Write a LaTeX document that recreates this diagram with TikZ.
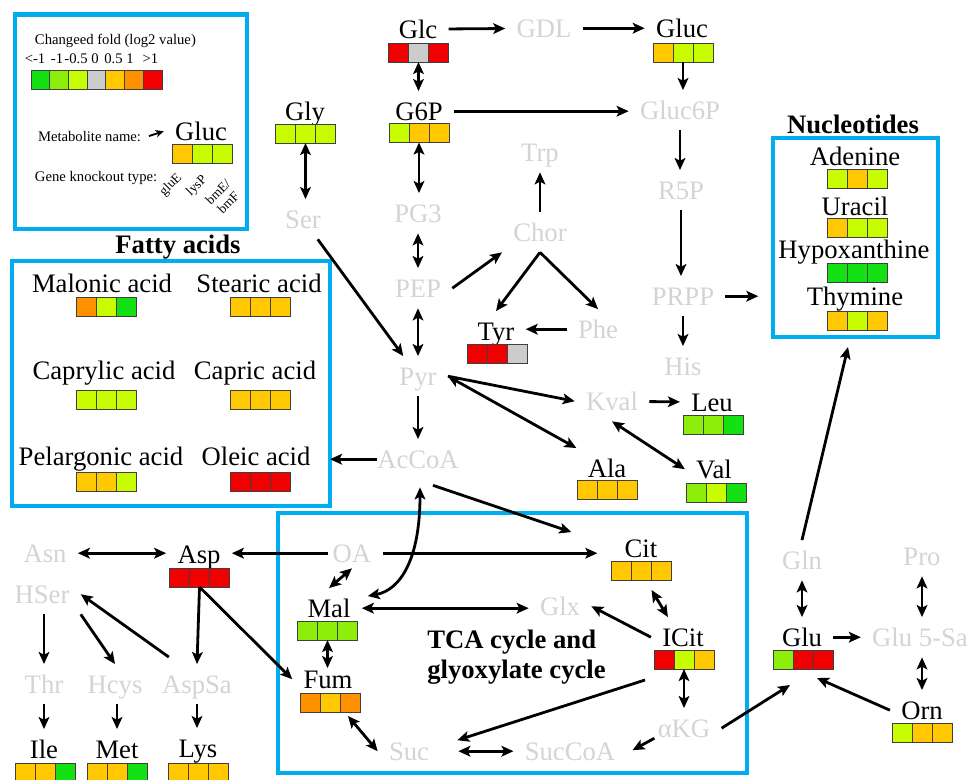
\documentclass[tikz,border=0pt]{standalone}
\usepackage{fontspec}
\setmainfont{Liberation Serif}
\usetikzlibrary{arrows.meta,calc}
\definecolor{cA}{RGB}{20,225,20}
\definecolor{cB}{RGB}{140,238,10}
\definecolor{cC}{RGB}{200,252,0}
\definecolor{cD}{RGB}{204,204,204}
\definecolor{cE}{RGB}{255,200,0}
\definecolor{cF}{RGB}{255,145,0}
\definecolor{cG}{RGB}{240,0,0}
\definecolor{gtxt}{RGB}{212,212,212}
\definecolor{fcol}{RGB}{0,174,239}
\tikzset{
  lbl/.style={font=\fontsize{20}{24}\selectfont, inner sep=1.5pt, outer sep=7pt, text height=13.2pt, text depth=0pt, anchor=base},
  met/.style={lbl, text=black},
  un/.style={lbl, text=gtxt},
  head/.style={font=\bfseries\fontsize{20}{24}\selectfont, inner sep=0pt},
  small/.style={font=\fontsize{11}{13}\selectfont, inner sep=1pt, outer sep=5pt},
  tinylbl/.style={font=\fontsize{10}{11}\selectfont, inner sep=0pt, align=center},
  frame/.style={draw=fcol, line width=3.2pt, inner sep=0pt, outer sep=0pt},
  barbox/.style={minimum width=45pt, minimum height=14.25pt, inner sep=0pt, outer sep=0pt},
  cell/.style={draw=black!75, line width=0.6pt, minimum width=15pt, minimum height=14.25pt, inner sep=0pt, outer sep=0pt},
  lcell/.style={draw=black!75, line width=0.6pt, minimum width=14pt, minimum height=14.25pt, inner sep=0pt, outer sep=0pt},
  arr/.style={-{Stealth[length=9pt,width=8pt,inset=2pt]}, line width=2.1pt},
  darr/.style={{Stealth[length=9pt,width=8pt,inset=2pt]}-{Stealth[length=9pt,width=8pt,inset=2pt]}, line width=2.1pt},
  smallarr/.style={-{Stealth[length=6pt,width=5.5pt,inset=1.5pt]}, line width=1.4pt}
}
\newcommand\metbar[6]{%
  \node[barbox] (#1) at (#2,#3) {};
  \node[cell,fill=#4] (#1-1) at ($(#1)+(-20,0)$) {};
  \node[cell,fill=#5] (#1-2) at (#1) {};
  \node[cell,fill=#6] (#1-3) at ($(#1)+(20,0)$) {};
}
\begin{document}
\begin{tikzpicture}[x=0.75pt,y=-0.75pt]
\useasboundingbox (0,0) rectangle (979,779);
\fill[white] (0,0) rectangle (979,779);

% frames
\node[frame, minimum width=174pt, minimum height=160.9pt] (LegFrame) at (131,121.75) {};
\node[frame, minimum width=238.5pt, minimum height=183.75pt] (FA) at (171,383.5) {};
\node[frame, minimum width=123.75pt, minimum height=149.25pt] (NucFrame) at (855.5,237.5) {};
\node[frame, minimum width=351.75pt, minimum height=195pt] (TCA) at (512.5,643) {};

% legend
\node[small, anchor=base west] (LegTitle) at (27,44) {Changeed fold (log2 value)};
\node[small, anchor=base] (LV1) at (35,63) {<-1};
\node[small, anchor=base] (LV2) at (57,63) {-1};
\node[small, anchor=base] (LV3) at (76,63) {-0.5};
\node[small, anchor=base] (LV4) at (95,63) {0};
\node[small, anchor=base] (LV5) at (113.5,63) {0.5};
\node[small, anchor=base] (LV6) at (130,63) {1};
\node[small, anchor=base] (LV7) at (150.5,63) {>1};
\node[lcell, fill=cA] (LB1) at (40.4,79.5) {};
\node[lcell, fill=cB] (LB2) at (59.1,79.5) {};
\node[lcell, fill=cC] (LB3) at (77.8,79.5) {};
\node[lcell, fill=cD] (LB4) at (96.5,79.5) {};
\node[lcell, fill=cE] (LB5) at (115.2,79.5) {};
\node[lcell, fill=cF] (LB6) at (133.9,79.5) {};
\node[lcell, fill=cG] (LB7) at (152.6,79.5) {};
\node[small, anchor=base west] (MetName) at (30,141) {Metabolite name:};
\node[small, anchor=base west] (KOType) at (27,181) {Gene knockout type:};
\node[met] (LGluc) at (201,140) {Gluc};
\metbar{LGlucB}{202}{153.5}{cE}{cC}{cC}
\node[tinylbl, rotate=45] (KO1) at (171,185) {gluE};
\node[tinylbl, rotate=45] (KO2) at (197,186) {lysP};
\node[tinylbl, rotate=45] (KO3) at (223,197) {bmE/\\bmF};
\draw[smallarr] (MetName.east) -- (LGluc.west);

% top metabolites
\node[met] (Glc) at (418,38) {Glc};
\node[un] (GDL) at (544,37) {GDL};
\node[met] (Gluc) at (682,37) {Gluc};
\node[met] (G6P) at (419,120) {G6P};
\node[un] (Gluc6P) at (680,119) {Gluc6P};
\node[met] (Gly) at (305,120) {Gly};
\node[un] (Ser) at (303,228) {Ser};
\node[un] (Trp) at (540,161) {Trp};
\node[un] (PG3) at (418,222) {PG3};
\node[un] (PEP) at (418,297) {PEP};
\node[un] (Pyr) at (418,385) {Pyr};
\node[un] (AcCoA) at (418,468) {AcCoA};
\node[un] (Chor) at (540,241) {Chor};
\node[un] (Phe) at (598,338) {Phe};
\node[met] (Tyr) at (496,340) {Tyr};
\node[un] (R5P) at (681,199) {R5P};
\node[un] (PRPP) at (683,305) {PRPP};
\node[un] (His) at (683,375) {His};
\node[un] (Kval) at (612,410) {Kval};
\node[met] (Leu) at (712,411) {Leu};
\node[met] (Ala) at (607,477) {Ala};
\node[met] (Val) at (714,478) {Val};

\metbar{GlcB}{418.5}{52.5}{cG}{cD}{cG}
\metbar{GlucB}{683}{52.5}{cE}{cC}{cC}
\metbar{G6PB}{419}{133}{cC}{cE}{cE}
\metbar{GlyB}{305.5}{133.5}{cC}{cC}{cC}
\metbar{TyrB}{497.5}{353.5}{cG}{cG}{cD}
\metbar{LeuB}{713}{424.5}{cB}{cB}{cA}
\metbar{AlaB}{607.5}{490}{cE}{cE}{cE}
\metbar{ValB}{716}{492.5}{cB}{cC}{cA}

% fatty acids
\node[head, anchor=base] (FAhead) at (178,253) {Fatty acids};
\node[met] (Malonic) at (102,292) {Malonic acid};
\node[met] (Stearic) at (259,292) {Stearic acid};
\node[met] (Caprylic) at (104,379) {Caprylic acid};
\node[met] (Capric) at (255,379) {Capric acid};
\node[met] (Pelargonic) at (101,465) {Pelargonic acid};
\node[met] (Oleic) at (256,465) {Oleic acid};
\metbar{MalonicB}{106.5}{307}{cF}{cC}{cA}
\metbar{StearicB}{260}{307}{cE}{cE}{cE}
\metbar{CaprylicB}{106.5}{400}{cC}{cC}{cC}
\metbar{CapricB}{260}{400}{cE}{cE}{cE}
\metbar{PelargonicB}{106.5}{482}{cE}{cE}{cC}
\metbar{OleicB}{260}{482}{cG}{cG}{cG}

% nucleotides
\node[head, anchor=base] (NucHead) at (853,133) {Nucleotides};
\node[met] (Adenine) at (855,165) {Adenine};
\node[met] (Uracil) at (855,215) {Uracil};
\node[met] (Hypo) at (854,258) {Hypoxanthine};
\node[met] (Thymine) at (855,305) {Thymine};
\metbar{AdenineB}{857}{179}{cC}{cE}{cC}
\metbar{UracilB}{857}{228}{cE}{cC}{cC}
\metbar{HypoB}{857}{273}{cA}{cA}{cA}
\metbar{ThymineB}{857}{320.5}{cE}{cC}{cE}

% bottom left
\node[un] (Asn) at (45,562) {Asn};
\node[met] (Asp) at (199,563) {Asp};
\node[un] (HSer) at (42,603) {HSer};
\node[un] (Thr) at (44,693) {Thr};
\node[un] (Hcys) at (115,693) {Hcys};
\node[un] (AspSa) at (197,693) {AspSa};
\node[met] (Ile) at (44,758) {Ile};
\node[met] (Met) at (117,758) {Met};
\node[met] (Lys) at (198,757) {Lys};
\metbar{AspB}{199.5}{577.5}{cG}{cG}{cG}
\metbar{IleB}{45.5}{772.5}{cE}{cE}{cA}
\metbar{MetB}{117.5}{772.5}{cE}{cE}{cA}
\metbar{LysB}{198.5}{772.5}{cE}{cE}{cE}

% TCA
\node[un] (OA) at (352,562) {OA};
\node[met] (Mal) at (329,617) {Mal};
\node[un] (Glx) at (560,615) {Glx};
\node[met] (Fum) at (328,688) {Fum};
\node[un] (Suc) at (409,760) {Suc};
\node[un] (SucCoA) at (570,760) {SucCoA};
\node[met] (Cit) at (641,557) {Cit};
\node[met] (ICit) at (683,646) {ICit};
\node[un] (aKG) at (684,737) {αKG};
\metbar{MalB}{327.5}{630.5}{cB}{cB}{cB}
\metbar{FumB}{330}{702.5}{cF}{cE}{cF}
\metbar{CitB}{641.5}{570.5}{cE}{cE}{cE}
\metbar{ICitB}{684}{659.5}{cG}{cC}{cE}
\node[head, anchor=base west] (TCA1) at (427,648) {TCA cycle and};
\node[head, anchor=base west] (TCA2) at (427,678) {glyoxylate cycle};

% right
\node[un] (Gln) at (802,569) {Gln};
\node[met] (Glu) at (802,646) {Glu};
\node[un] (Glu5Sa) at (920,646) {Glu 5-Sa};
\node[un] (Pro) at (922,565) {Pro};
\node[met] (Orn) at (922,719) {Orn};
\metbar{GluB}{803}{659.5}{cB}{cG}{cG}
\metbar{OrnB}{922.5}{733}{cC}{cE}{cE}

% connectors
\draw[arr] (Glc) -- (GDL);
\draw[arr] (GDL) -- (Gluc);
\draw[darr] (GlcB.south) -- (GlcB.south |- G6P.north);
\draw[arr] (GlucB.south) -- (GlucB.south |- Gluc6P.north);
\draw[arr] (G6P) -- (G6P -| Gluc6P.west);
\draw[arr] (Gluc6P.south) -- (Gluc6P.south |- R5P.north);
\draw[darr] (G6PB.south) -- (G6PB.south |- PG3.north);
\draw[darr] (PG3) -- (PEP);
\draw[darr] (PEP) -- (Pyr);
\draw[arr] (Pyr) -- (AcCoA);
\draw[darr] (GlyB.south) -- (GlyB.south |- Ser.north);
\draw[arr] (Ser) -- (Pyr);
\draw[arr] (PEP.east) -- (Chor.south west);
\draw[arr] (Chor.south) -- (Tyr.north);
\draw[arr] (Chor.south) -- (Phe.north);
\draw[arr] (Phe.west) -- (Phe.west -| Tyr.east);
\draw[arr] (Chor.north) -- (Chor.north |- Trp.south);
\draw[arr] (R5P.south) -- (R5P.south |- PRPP.north);
\draw[arr] (PRPP) -- (His);
\draw[arr, shorten >=11pt] (PRPP.east) -- (PRPP.east -| NucFrame.west);
\draw[darr] (Pyr.east) -- (Ala.north west);
\draw[arr] (Pyr.east) -- (Kval.west);
\draw[arr] (Kval) -- (Leu);
\draw[darr] (Kval.south) -- (Val.west);
\draw[arr] ($(AcCoA.west)+(11,0)$) -- (AcCoA.west -| FA.east);
\draw[arr] ($(AcCoA.south)+(15,6)$) -- ($(Cit.north west)+(-42,4)$);
\draw[darr] ($(AcCoA.south)+(2,8)$) .. controls ($(AcCoA.south)+(2,81)$) and ($(Mal.north east)+(38,2)$) .. ($(Mal.north east)+(6,8)$);
\draw[arr, shorten <=-5pt] (OA.west) -- (OA.west -| Asp.east);
\draw[arr] (OA.east) -- ($(OA.east -| Cit.west)+(-16,0)$);
\draw[darr] ($(OA.south)+(0,-5)$) -- (Mal.north);
\draw[darr] (Mal.east) -- (Mal.east -| Glx.west);
\draw[arr] (ICit.west) -- (Glx.east);
\draw[darr] (MalB.south) -- ($(MalB.south |- Fum.north)+(0,9)$);
\draw[arr] (AspB.south) -- (Fum.west);
\draw[darr] ($(FumB.south)+(18,4)$) -- (Suc.west);
\draw[darr] ($(Suc.east)+(18,0)$) -- (SucCoA.west);
\draw[arr] ($(ICitB.south west)+(-9,11)$) -- ($(Suc.east)+(17,-11)$);
\draw[darr] ($(CitB.south)+(10,10)$) -- ($(ICit.north west)+(17,0)$);
\draw[darr] (ICitB.south) -- (ICitB.south |- aKG.north);
\draw[arr] ($(aKG.west)+(8,10)$) -- ($(SucCoA.east)+(6,-1)$);
\draw[arr] (aKG.east) -- ($(GluB.south)+(-13,16)$);
\draw[arr] (Orn.west) -- ($(GluB.south)+(14,9)$);
\draw[arr] (Glu.east) -- (Glu.east -| Glu5Sa.west);
\draw[darr] (Gln.south) -- (Gln.south |- Glu.north);
\draw[darr] (Pro.south) -- (Pro.south |- Glu5Sa.north);
\draw[darr] (Orn.north |- Glu5Sa.south) -- (Orn.north);
\draw[arr] (Gln.north) -- ($(NucFrame.south)+(-7.5,10)$);
\draw[darr] (Asn.east) -- (Asn.east -| Asp.west);
\draw[arr] (AspB.south) -- (AspSa.north);
\draw[arr] ($(AspSa.north west)+(18,-7)$) -- (HSer.east);
\draw[arr] ($(HSer.south)+(2,0)$) -- (Thr.north);
\draw[arr] (HSer.south east) -- (Hcys.north);
\draw[arr] (Thr) -- (Ile);
\draw[arr] (Met.north |- Hcys.south) -- (Met.north);
\draw[arr] (AspSa.south) -- (AspSa.south |- Lys.north);
\end{tikzpicture}
\end{document}
